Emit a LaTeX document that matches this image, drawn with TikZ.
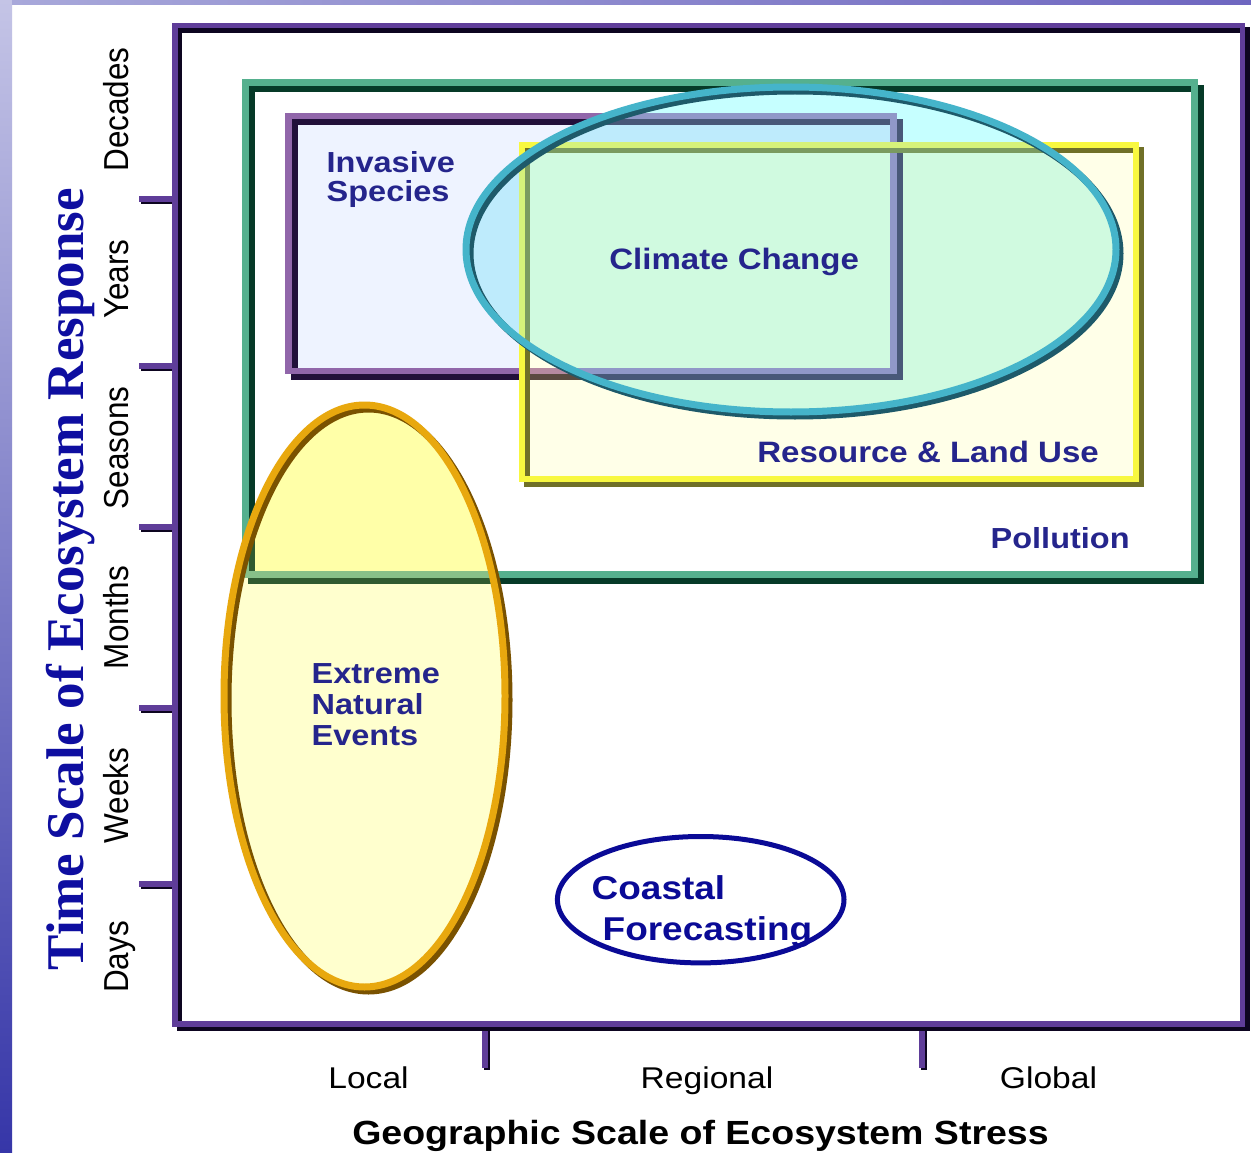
\documentclass[tikz,border=0pt]{standalone}
\usepackage{fontspec}
\newfontfamily\lab[FakeStretch=1.12]{Liberation Sans}
\newfontfamily\axl{Liberation Sans}
\newfontfamily\ttl{Liberation Serif}
\definecolor{framep}{HTML}{5F3D99}
\definecolor{frameblk}{HTML}{0D0520}
\definecolor{greenl}{HTML}{55B08E}
\definecolor{greend}{HTML}{063A28}
\definecolor{greenm}{HTML}{88C088}
\definecolor{greenmd}{HTML}{305A30}
\definecolor{invl}{HTML}{9166AA}
\definecolor{invd}{HTML}{22103A}
\definecolor{invcl}{HTML}{9098C8}
\definecolor{invcd}{HTML}{485878}
\definecolor{invyl}{HTML}{B58AA0}
\definecolor{invyd}{HTML}{5A4A40}
\definecolor{yell}{HTML}{F8F840}
\definecolor{yeld}{HTML}{707028}
\definecolor{yelcl}{HTML}{D6F27A}
\definecolor{yelcd}{HTML}{7A9A60}
\definecolor{cyl}{HTML}{45B4CA}
\definecolor{cyd}{HTML}{1E5A6A}
\definecolor{orl}{HTML}{E8A80E}
\definecolor{ord}{HTML}{7A5200}
\definecolor{navy}{HTML}{25258C}
\definecolor{coast}{HTML}{0A0A96}
\definecolor{ttlc}{HTML}{0E0EA0}
\definecolor{invfill}{HTML}{EEF3FF}
\definecolor{yelfill}{HTML}{FFFFE8}
\definecolor{cyanfill}{HTML}{C6FFFF}
\definecolor{invcyan}{HTML}{BEEBFC}
\definecolor{mint}{HTML}{D0FAE0}
\definecolor{extfill}{HTML}{FFFFCE}
\definecolor{exttop}{HTML}{FFFFA8}
\definecolor{bgtop}{HTML}{C4C4E6}
\definecolor{bgbot}{HTML}{3636A8}
\definecolor{bgstripl}{HTML}{A8A8DA}
\definecolor{bgstripr}{HTML}{6E66C0}
\begin{document}
\begin{tikzpicture}[x=1pt,y=-1pt,
  bev/.style n args={4}{line width=#4, draw=#1,
    preaction={draw=#2, line width=#4, transform canvas={shift={(#3,#3)}}}},
  lbl/.style={inner sep=0pt, outer sep=0pt, text=navy, anchor=base west,
    font=\lab\bfseries\fontsize{29}{29}\selectfont},
  cst/.style={inner sep=0pt, outer sep=0pt, text=coast, anchor=base west,
    font=\lab\bfseries\fontsize{33}{33}\selectfont},
  xlab/.style={inner sep=0pt, outer sep=0pt, anchor=base,
    font=\lab\fontsize{30}{30}\selectfont},
  ylab/.style={inner sep=0pt, outer sep=0pt, anchor=base, rotate=90,
    font=\axl\fontsize{31.5}{31.5}\selectfont},
]
\useasboundingbox (0,0) rectangle (1251,1153);
% background
\fill[white] (0,0) rectangle (1251,1153);
\shade[top color=bgtop, bottom color=bgbot] (0,0) rectangle (12,1153);
\shade[left color=bgstripl, right color=bgstripr] (12,0) rectangle (1251,5);

% ticks
\foreach \yy in {199,366,527,708,884}
  \draw[bev={framep}{frameblk}{2}{6}] (139,\yy) -- (176,\yy);
\foreach \xx in {485,922}
  \draw[bev={framep}{frameblk}{2}{6}] (\xx,1024) -- (\xx,1068);
% main frame
\draw[bev={framep}{frameblk}{4.5}{5.5}] (175,25.5) rectangle (1242.5,1024);

% extreme natural events fill
\fill[extfill] (364.5,696) ellipse [x radius=140.5, y radius=291];
\begin{scope}
  \clip (364.5,696) ellipse [x radius=140.5, y radius=291];
  \fill[exttop] (245,83) rectangle (1194.5,574);
\end{scope}
% pollution rectangle
\draw[bev={greenl}{greend}{6}{7}] (245,83) rectangle (1194.5,574);
\begin{scope}
  \clip (364.5,696) ellipse [x radius=140.5, y radius=291];
  \draw[bev={greenm}{greenmd}{6}{7}] (245,83) rectangle (1194.5,574);
\end{scope}
\draw[bev={orl}{ord}{4}{7}] (364.5,696) ellipse [x radius=140.5, y radius=291];

% fills of invasive / resource / climate
\fill[invfill] (288.5,116) rectangle (893.5,371);
\fill[yelfill] (522,145) rectangle (1136,479);
\fill[cyanfill] (791,249.5) ellipse [x radius=325, y radius=162.5];
\begin{scope}
  \clip (791,249.5) ellipse [x radius=325, y radius=162.5];
  \fill[invcyan] (288.5,116) rectangle (893.5,371);
  \fill[mint] (522,145) rectangle (1136,479);
\end{scope}
% strokes
\draw[bev={invl}{invd}{6}{6.5}] (288.5,116) rectangle (893.5,371);
\begin{scope}
  \clip (522,145) rectangle (1136,479);
  \draw[bev={invyl}{invyd}{6}{6.5}] (288.5,116) rectangle (893.5,371);
\end{scope}
\begin{scope}
  \clip (791,249.5) ellipse [x radius=325, y radius=162.5];
  \draw[bev={invcl}{invcd}{6}{6.5}] (288.5,116) rectangle (893.5,371);
\end{scope}
\draw[bev={yell}{yeld}{5}{6.5}] (522,145) rectangle (1136,479);
\begin{scope}
  \clip (791,249.5) ellipse [x radius=325, y radius=162.5];
  \draw[bev={yelcl}{yelcd}{5}{6.5}] (522,145) rectangle (1136,479);
\end{scope}
\draw[bev={cyl}{cyd}{4}{7}] (791,249.5) ellipse [x radius=325, y radius=162.5];

% coastal forecasting
\draw[coast, line width=5, fill=white] (700.7,899.7) ellipse [x radius=143.3, y radius=63.2];

% labels
\node[lbl] (inv1) at (326.7,172.7) {Invasive};
\node[lbl] (inv2) at (326.7,201.7) {Species};
\node[lbl, font=\lab\bfseries\fontsize{29.5}{29.5}\selectfont] (clim) at (609.3,269.3) {Climate Change};
\node[lbl, font=\lab\bfseries\fontsize{29.5}{29.5}\selectfont] (res) at (757.3,462.3) {Resource \& Land Use};
\node[lbl] (poll) at (990.7,548.3) {Pollution};
\node[lbl] (ext1) at (311.7,683.5) {Extreme};
\node[lbl] (ext2) at (311.7,714.5) {Natural};
\node[lbl] (ext3) at (311.7,745) {Events};
\node[cst] (cst1) at (591.7,899) {Coastal};
\node[cst] (cst2) at (602.7,940.7) {Forecasting};

% x axis labels
\node[xlab] (xloc) at (368.5,1088.6) {Local};
\node[xlab] (xreg) at (707,1088.6) {Regional};
\node[xlab] (xglo) at (1048.5,1088.6) {Global};
\node[xlab, font=\lab\bfseries\fontsize{33.5}{33.5}\selectfont] (xtit) at (700.5,1144) {Geographic Scale of Ecosystem Stress};

% y axis labels
\node[ylab] (ydec) at (128,109.5) {\scalebox{1}[1.1]{Decades}};
\node[ylab] (yyea) at (128,279) {\scalebox{1}[1.1]{Years}};
\node[ylab] (ysea) at (128,448) {\scalebox{1}[1.1]{Seasons}};
\node[ylab] (ymon) at (128,617.5) {\scalebox{1}[1.1]{Months}};
\node[ylab] (ywee) at (128,795.5) {\scalebox{1}[1.1]{Weeks}};
\node[ylab] (yday) at (128,957) {\scalebox{1}[1.1]{Days}};
\node[inner sep=0pt, outer sep=0pt, anchor=base, rotate=90, text=ttlc,
  font=\ttl\bfseries\fontsize{53}{53}\selectfont] (ytit) at (83.3,579.2) {Time Scale of Ecosystem Response};
\end{tikzpicture}
\end{document}
